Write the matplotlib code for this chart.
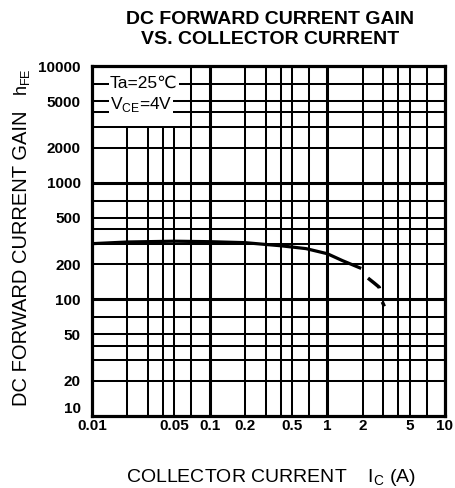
import matplotlib
matplotlib.use("Agg")
import matplotlib.pyplot as plt
from matplotlib.patches import Rectangle

plt.rcParams['font.family'] = ['Liberation Sans', 'DejaVu Sans']

# ---- data ----
ic_solid = [0.01, 0.02, 0.05, 0.1, 0.2, 0.4, 0.66, 1.0, 1.34, 1.94]
hfe_solid = [300, 310, 315, 312, 306, 288, 272, 246, 215, 184]
ic_dash = [1.94, 2.18, 2.5, 2.76, 2.92, 3.05]
hfe_dash = [184, 154, 138, 127, 96, 87]

x_ticks = [0.01, 0.05, 0.1, 0.2, 0.5, 1, 2, 5, 10]
x_ticklabels = ["0.01", "0.05", "0.1", "0.2", "0.5", "1", "2", "5", "10"]
y_ticks = [10, 20, 50, 100, 200, 500, 1000, 2000, 5000, 10000]
y_ticklabels = ["10", "20", "50", "100", "200", "500", "1000", "2000", "5000", "10000"]

x_grid = [0.02, 0.03, 0.04, 0.05, 0.07, 0.1, 0.2, 0.3, 0.4, 0.5, 0.7,
          1, 2, 3, 4, 5, 7]
y_grid = [20, 30, 40, 50, 70, 100, 200, 300, 400, 500, 700,
          1000, 2000, 3000, 4000, 5000, 7000]
decades = [0.1, 1, 100, 1000]

fig = plt.figure(figsize=(4.56, 4.88), dpi=100)
ax = fig.add_axes([92/456, 1-416/488, 353/456, 350/488])
ax.set_xscale('log')
ax.set_yscale('log')
ax.set_xlim(0.01, 10)
ax.set_ylim(10, 10000)

for v in x_grid:
    ax.axvline(v, color='black', lw=2.2 if v in decades else 1.45, zorder=1)
for v in y_grid:
    ax.axhline(v, color='black', lw=2.2 if v in decades else 1.45, zorder=3)

# white box behind the condition text
ax.add_patch(Rectangle((0, (416-126)/350), 91/353, 1, transform=ax.transAxes,
                       facecolor='white', edgecolor='none', zorder=2))

ax.plot(ic_solid, hfe_solid, color='black', lw=2.3, zorder=4,
        solid_capstyle='butt')
ax.plot(ic_dash, hfe_dash, color='black', lw=2.5, zorder=4,
        linestyle=(0, (0.01, 3.4, 4.5, 4.0, 1.6, 30)), dash_capstyle='butt')

ax.text(0.0142, 7150, "Ta=25\u2103", fontsize=12.5, va='center', ha='left',
        zorder=5, bbox=dict(facecolor='white', edgecolor='none', pad=0.8))
ax.text(0.0142, 4650, "V$_{\\mathregular{CE}}$=4V", fontsize=12.5, va='center',
        ha='left', zorder=5,
        bbox=dict(facecolor='white', edgecolor='none', pad=0.8))

ax.set_xticks(x_ticks)
ax.set_xticklabels(x_ticklabels, fontsize=11, fontweight='bold')
ax.set_yticks(y_ticks)
ax.set_yticklabels(y_ticklabels, fontsize=11, fontweight='bold')
ax.minorticks_off()
ax.tick_params(axis='both', length=0)
ax.tick_params(axis='x', pad=2)
ax.tick_params(axis='y', pad=8)
ax.get_yticklabels()[0].set_va('bottom')
for s in ax.spines.values():
    s.set_linewidth(2.3)
    s.set_zorder(6)

fig.text(270/456, 1-19/488, "DC FORWARD CURRENT GAIN", ha='center',
         va='center', fontsize=14, fontweight='bold')
fig.text(270/456, 1-40/488, "VS. COLLECTOR CURRENT", ha='center',
         va='center', fontsize=14, fontweight='bold')

fig.text(22/456, 1-258/488, "DC FORWARD CURRENT GAIN", rotation=90,
         ha='center', va='center', fontsize=14.5)
fig.text(22/456, 1-82/488, "h$_{\\mathregular{FE}}$", rotation=90,
         ha='center', va='center', fontsize=13)
fig.text(271/456, 1-478/488,
         "COLLECTOR CURRENT    I$_{\\mathregular{C}}$ (A)",
         ha='center', va='center', fontsize=14)

fig.savefig("out.png", dpi=100)
